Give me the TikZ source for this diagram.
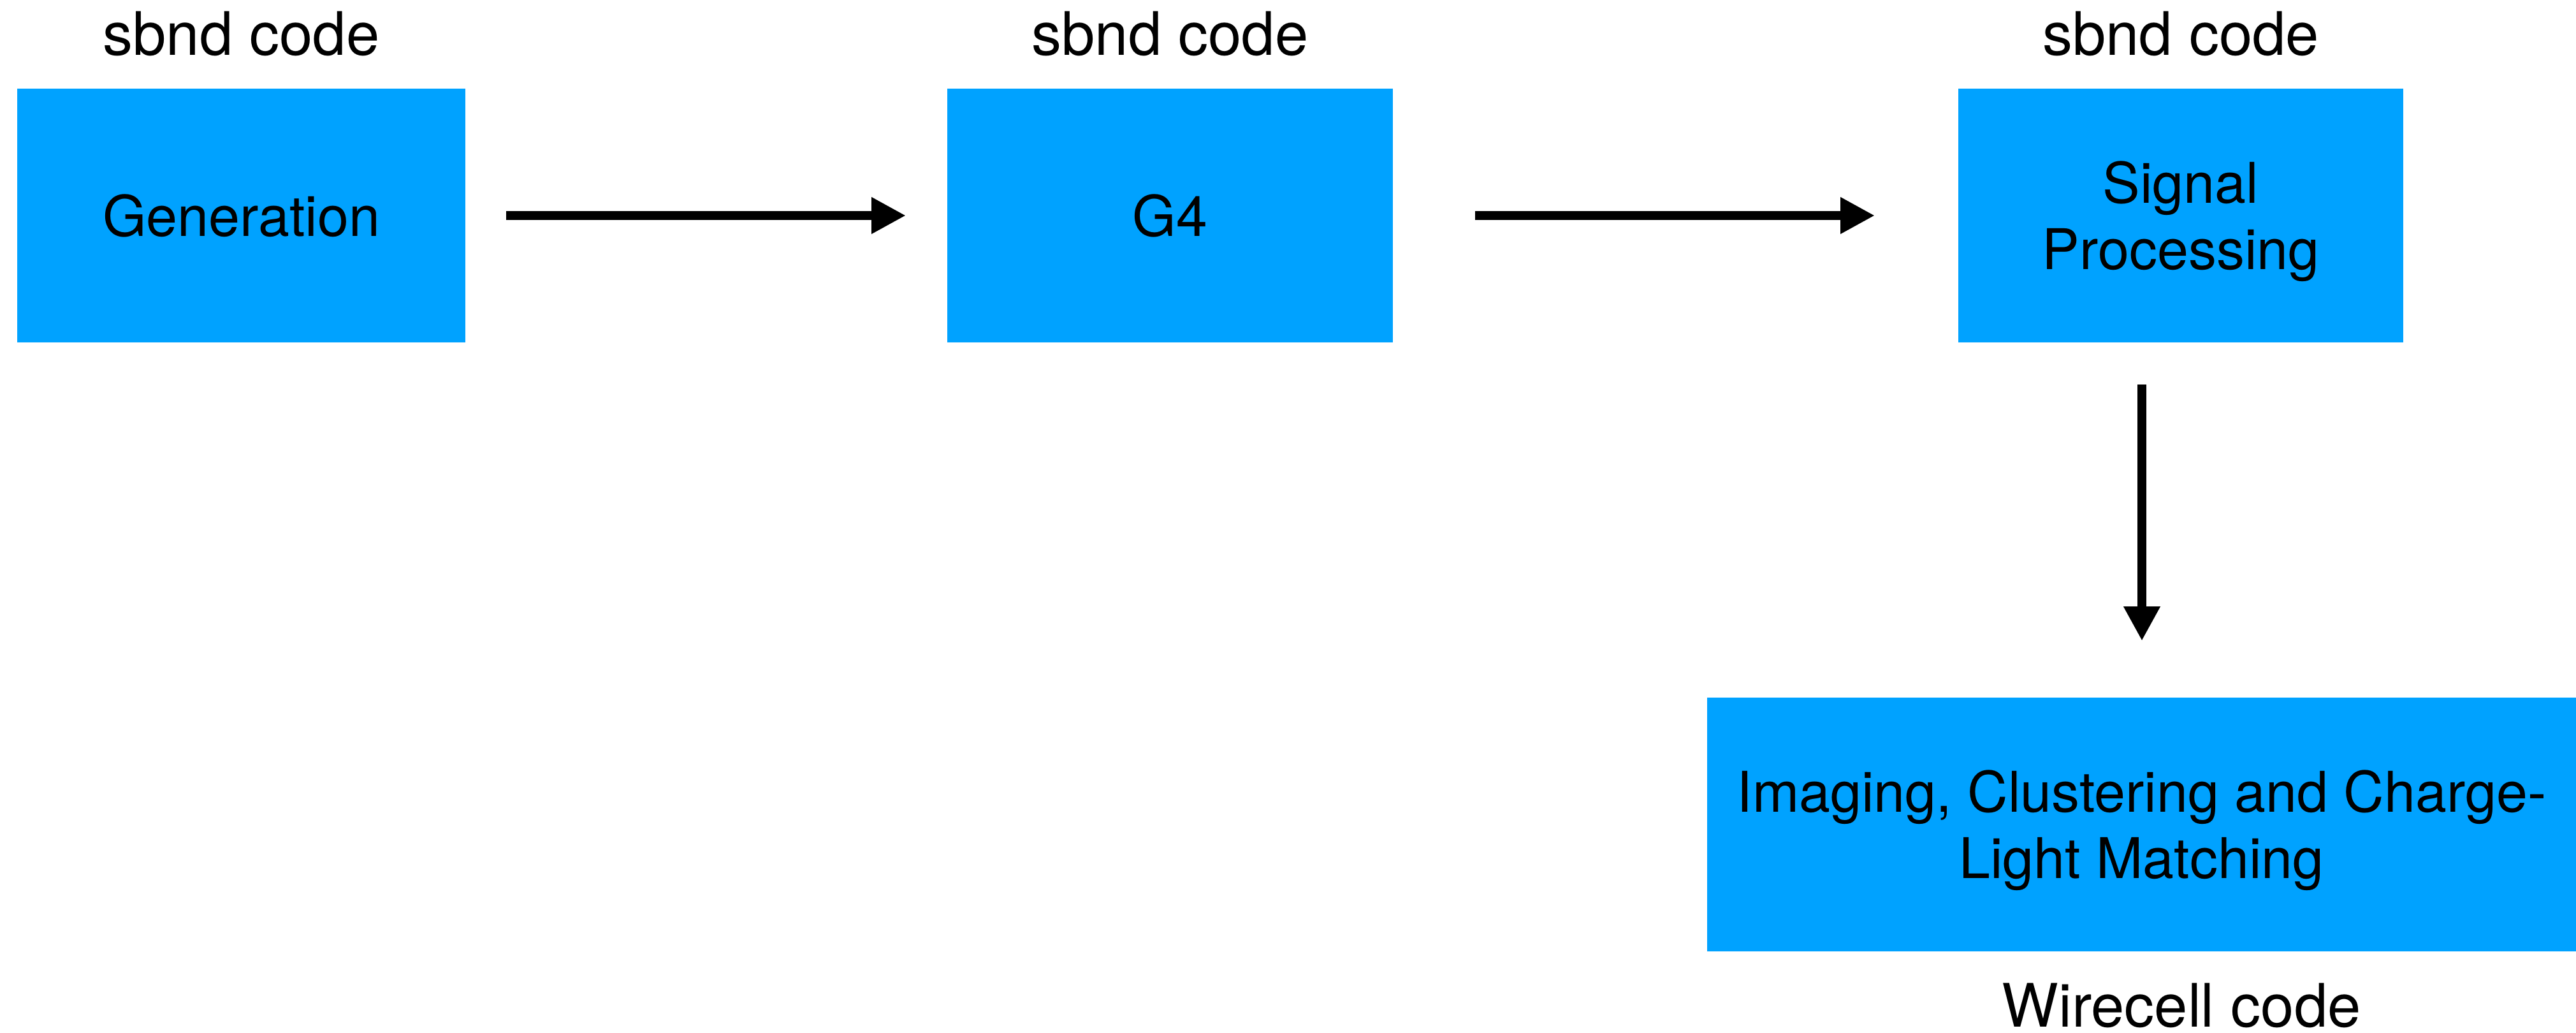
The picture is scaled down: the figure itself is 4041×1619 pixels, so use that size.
\documentclass[tikz,border=0pt]{standalone}
\usepackage{fontspec}
\setmainfont{TeX Gyre Heros}
\usetikzlibrary{arrows.meta}
\definecolor{boxblue}{RGB}{0,162,255}
\newcommand{\firstlinepad}{\rule{0pt}{21pt}}
\begin{document}
\begin{tikzpicture}[x=0.25pt,y=-0.25pt,
  stagebox/.style={fill=boxblue, draw=none, inner sep=0pt, minimum height=99.5pt,
    align=center, font=\fontsize{22}{26}\selectfont},
  codelabel/.style={anchor=base, inner sep=0pt, font=\fontsize{23.5}{28}\selectfont},
  flow/.style={line width=3.5pt, -{Triangle[length=13.5pt,width=13.5pt]}}]
\useasboundingbox (0,0) rectangle (4041,1619);
\node[stagebox, minimum width=175.75pt] (gen) at (378.5,338) {Generation};
\node[stagebox, minimum width=174.75pt] (g4) at (1835.5,338) {G4};
\node[stagebox, minimum width=174.5pt] (sp) at (3421,338) {\firstlinepad Signal\\Processing};
\node[stagebox, minimum width=340.75pt] (img) at (3359.5,1293) {\firstlinepad Imaging, Clustering and Charge-\\Light Matching};
\node[codelabel] (l1) at (378.5,86) {sbnd code};
\node[codelabel] (l2) at (1835.5,86) {sbnd code};
\node[codelabel] (l3) at (3421,86) {sbnd code};
\node[codelabel] (l4) at (3422,1610) {Wirecell code};
\coordinate (a1s) at (794,338);
\coordinate (a1e) at (1421,338);
\coordinate (a2s) at (2314,338);
\coordinate (a2e) at (2941,338);
\coordinate (a3s) at (3360,603);
\coordinate (a3e) at (3360,1005);
\draw[flow] (a1s) -- (a1e);
\draw[flow] (a2s) -- (a2e);
\draw[flow] (a3s) -- (a3e);
\end{tikzpicture}
\end{document}
